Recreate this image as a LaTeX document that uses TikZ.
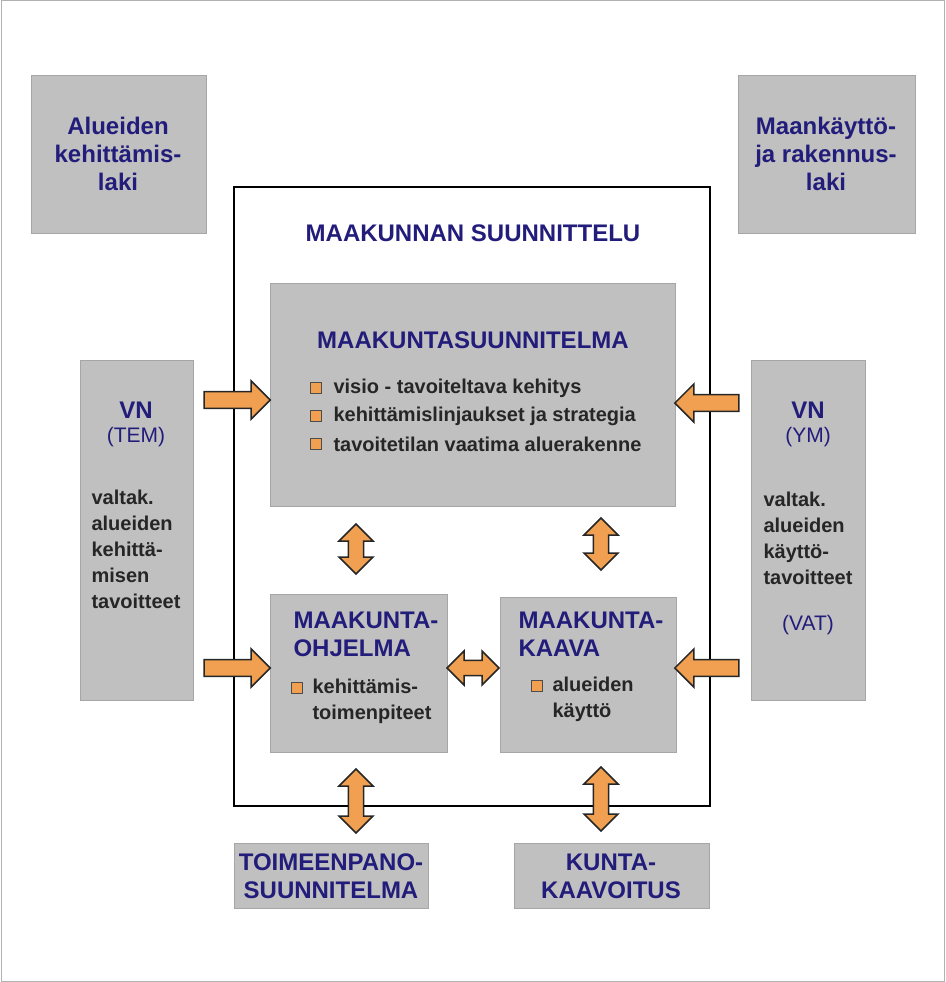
\documentclass[tikz,border=0pt]{standalone}
\usepackage{fontspec}
\setmainfont{Liberation Sans}
\usetikzlibrary{shapes.arrows}
\definecolor{navy}{HTML}{221C7A}
\definecolor{boxgray}{HTML}{C0C0C0}
\definecolor{arroworange}{HTML}{F0A050}
\tikzset{
  graybox/.style={fill=boxgray, draw=gray!70, line width=1pt, align=center, inner sep=0pt},
  blockarrow/.style={single arrow, fill=arroworange, draw=black!85, line width=1.5pt,
    minimum height=#1, minimum width=38pt, single arrow head extend=6pt, inner sep=4pt},
  dblarrow/.style={double arrow, fill=arroworange, draw=black!85, line width=1.5pt,
    minimum height=#1, minimum width=34pt, double arrow head extend=6pt, inner sep=4pt},
  bullet/.style={fill=arroworange, draw=black!70, minimum size=11pt, inner sep=0pt},
  hd/.style={font=\fontsize{24}{28}\selectfont\bfseries, text=navy, align=center},
  txt/.style={font=\fontsize{20}{26}\selectfont\bfseries, text=black!85, anchor=west}
}
\begin{document}
\begin{tikzpicture}[x=1pt, y=-1pt]
    \useasboundingbox (0,0) rectangle (945,982);
    \draw[gray!60, line width=1pt] (1,1) rectangle (944,981);

    % law boxes
    \draw[graybox] (31,75) rectangle (206,233);
    \node[hd] (alueiden) at (118,154) {Alueiden\\kehittämis-\\laki};
    \draw[graybox] (738,75) rectangle (915,233);
    \node[hd] (maankaytto) at (826,154) {Maankäyttö-\\ja rakennus-\\laki};

    % frame
    \draw[line width=2.5pt] (234,187) rectangle (710,806);
    \node[hd] (frametitle) at (473,233) {MAAKUNNAN SUUNNITTELU};

    % Maakuntasuunnitelma
    \draw[graybox] (270,283) rectangle (675,506);
    \node[hd] (suunnitelma) at (473,340) {MAAKUNTASUUNNITELMA};
    \foreach \y/\t in {388/visio - tavoiteltava kehitys,
                       416/kehittämislinjaukset ja strategia,
                       444/tavoitetilan vaatima aluerakenne} {
        \node[bullet] at (316,\y) {};
        \node[txt] at (330,\y) {\t};
    }

    % side boxes
    \draw[graybox] (80,360) rectangle (193,700);
    \node[hd] (vnleft) at (136,410) {VN};
    \node[hd, font=\fontsize{21}{26}\selectfont] at (136,437) {(TEM)};
    \node[txt, anchor=center, align=left] at (136,549) {valtak.\\alueiden\\kehittä-\\misen\\tavoitteet};
    \draw[graybox] (751,360) rectangle (865,700);
    \node[hd] (vnright) at (808,410) {VN};
    \node[hd, font=\fontsize{21}{26}\selectfont] at (808,437) {(YM)};
    \node[txt, anchor=center, align=left] at (808,538) {valtak.\\alueiden\\käyttö-\\tavoitteet};
    \node[hd, font=\fontsize{21}{26}\selectfont] at (808,625) {(VAT)};

    % Maakuntaohjelma
    \draw[graybox] (270,594) rectangle (447,752);
    \node[hd, anchor=west, align=left] (ohjelma) at (290,634) {MAAKUNTA-\\OHJELMA};
    \node[bullet] at (297,688) {};
    \node[txt, align=left, anchor=north west] at (309,675) {kehittämis-\\toimenpiteet};

    % Maakuntakaava
    \draw[graybox] (500,597) rectangle (676,752);
    \node[hd, anchor=west, align=left] (kaava) at (515,634) {MAAKUNTA-\\KAAVA};
    \node[bullet] at (537,686) {};
    \node[txt, align=left, anchor=north west] at (549,673) {alueiden\\käyttö};

    % bottom boxes
    \draw[graybox] (234,843) rectangle (428,908);
    \node[hd] (toimeenpano) at (331,876) {TOIMEENPANO-\\SUUNNITELMA};
    \draw[graybox] (514,843) rectangle (709,908);
    \node[hd] (kuntakaavoitus) at (611,876) {KUNTA-\\KAAVOITUS};

    % arrows
    \node[blockarrow=66pt] at (233,400) {};
    \node[blockarrow=66pt] at (233,668) {};
    \node[blockarrow=64pt, shape border rotate=180] at (711,403) {};
    \node[blockarrow=64pt, shape border rotate=180] at (711,668) {};
    \node[dblarrow=50pt, rotate=90] at (356,549) {};
    \node[dblarrow=52pt, rotate=90] at (601,544) {};
    \node[dblarrow=52pt] at (473,668) {};
    \node[dblarrow=64pt, rotate=90] at (356,801) {};
    \node[dblarrow=64pt, rotate=90] at (601,799) {};
\end{tikzpicture}
\end{document}
